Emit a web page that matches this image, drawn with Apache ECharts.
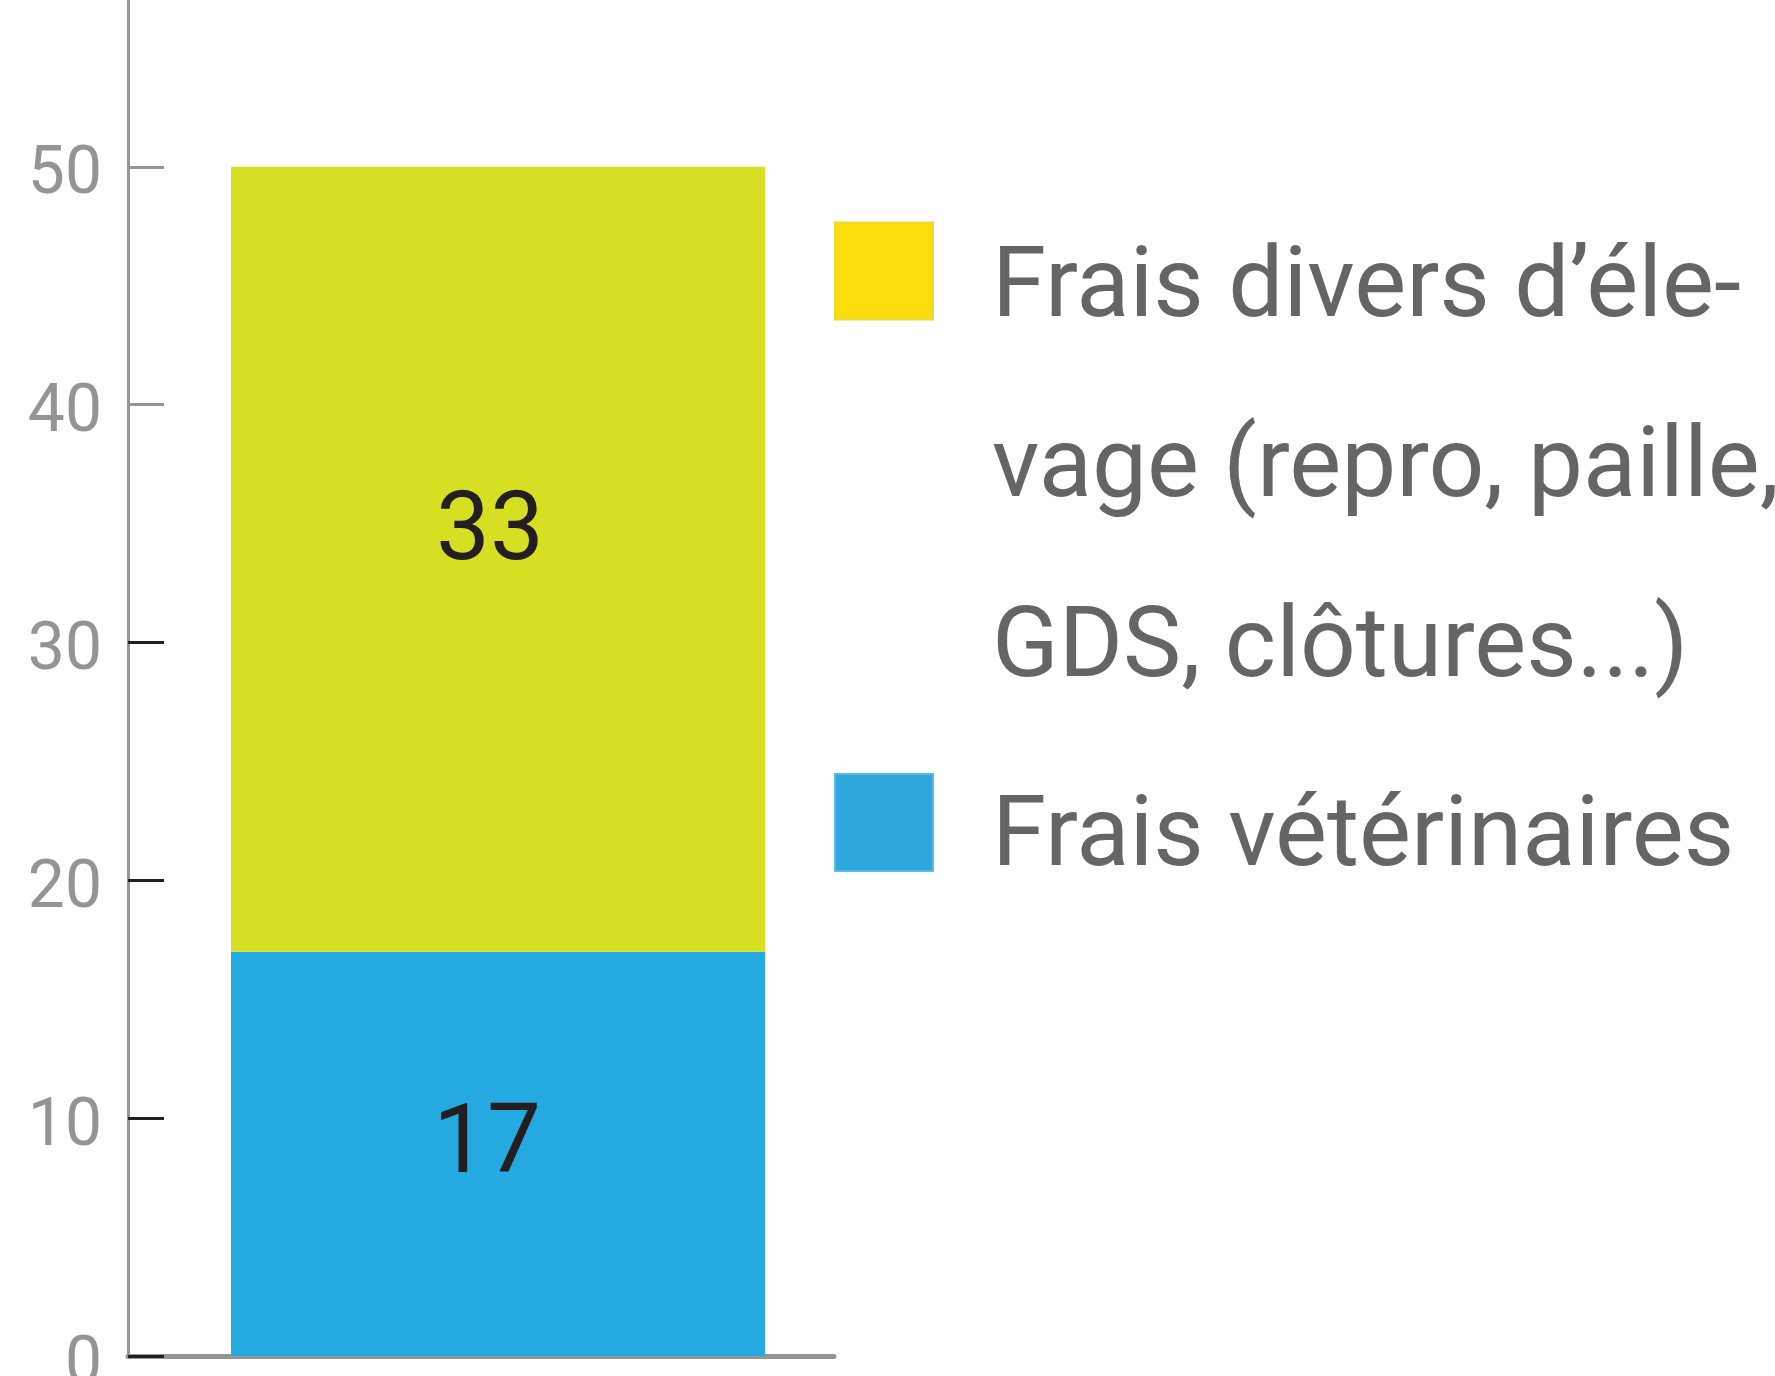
<!DOCTYPE html>
<html>
<head>
<meta charset="utf-8">
<script src="https://cdn.jsdelivr.net/npm/echarts@6/dist/echarts.min.js"></script>
<style>
  html, body { margin: 0; padding: 0; background: #fff; }
  #chart { width: 1775px; height: 1376px; }
</style>
</head>
<body>
<div id="chart"></div>
<script>
var categories = ['Total'];
var seriesNames = ['Frais vétérinaires', 'Frais divers d’élevage (repro, paille, GDS, clôtures...)'];
var veterinaires = [17];
var diversElevage = [33];
var legendLines = ['Frais divers d’éle-', 'vage (repro, paille,', 'GDS, clôtures...)'];

var FONT = 'Roboto, "Liberation Sans", sans-serif';

var chart = echarts.init(document.getElementById('chart'));

var legendRich = {
    t: { fontFamily: FONT, fontSize: 98, color: '#656565', lineHeight: 180 },
    s: { fontFamily: FONT, fontSize: 98, color: '#656565', lineHeight: 100 }
};

// plot area: value 0 at y=1356, 60 units above it (top is cut off)
var gridBox = { left: 128, top: -71, bottom: 20, outerBoundsMode: 'none' };

chart.setOption({
    animation: false,
    backgroundColor: '#ffffff',
    legend: [{
        // three line entry, rich text + top padding keeps first line level with the swatch
        data: [{ name: seriesNames[1], itemStyle: { color: '#FCDD0C', borderColor: '#E8D93A', borderWidth: 2 } }],
        left: 834,
        bottom: 676,
        padding: 0,
        itemWidth: 98,
        itemHeight: 97,
        icon: 'rect',
        selectedMode: false,
        formatter: function () {
            return legendLines.map(function (l) { return '{t|' + l + '}'; }).join('\n');
        },
        textStyle: { padding: [400, 0, 0, 54], rich: legendRich }
    }, {
        data: [{ name: seriesNames[0], itemStyle: { color: '#2EA7DC', borderColor: '#5DB9E3', borderWidth: 2 } }],
        left: 834,
        top: 773,
        padding: 0,
        itemWidth: 98,
        itemHeight: 97,
        icon: 'rect',
        selectedMode: false,
        formatter: function (name) { return '{s|' + name + '}'; },
        textStyle: { padding: [36, 0, 0, 54], rich: legendRich }
    }],
    grid: [
        Object.assign({ width: 740 }, gridBox),
        Object.assign({ width: 706 }, gridBox),
        // lower half of the axis, only for the dark ticks 0-30
        { left: 128, width: 706, top: 642.5, bottom: 20, outerBoundsMode: 'none' }
    ],
    xAxis: [{
        type: 'category',
        gridIndex: 0,
        data: categories,
        axisLine: { show: false },
        axisTick: { show: false },
        axisLabel: { show: false }
    }, {
        type: 'category',
        gridIndex: 1,
        data: categories,
        axisLine: { show: true, lineStyle: { color: '#959595', width: 5 } },
        axisTick: { show: false },
        axisLabel: { show: false }
    }, {
        type: 'category',
        gridIndex: 2,
        data: categories,
        show: false
    }],
    yAxis: [{
        type: 'value',
        gridIndex: 0,
        min: 0,
        max: 60,
        interval: 10,
        axisLine: { show: true, lineStyle: { color: '#959595', width: 3 } },
        axisTick: { show: true, inside: true, length: 36, lineStyle: { color: '#959595', width: 3 } },
        axisLabel: {
            margin: 26,
            padding: [20, 0, 0, 0],
            formatter: function (v) { return '{n|' + v + '}'; },
            rich: { n: { fontFamily: FONT, fontSize: 66, color: '#949494', lineHeight: 70 } }
        },
        splitLine: { show: false }
    }, {
        type: 'value',
        gridIndex: 1,
        min: 0,
        max: 60,
        show: false
    }, {
        type: 'value',
        gridIndex: 2,
        min: 0,
        max: 30,
        interval: 10,
        axisLine: { show: false },
        axisTick: { show: true, inside: true, length: 36, lineStyle: { color: '#231f20', width: 3 } },
        axisLabel: { show: false },
        splitLine: { show: false }
    }],
    series: [{
        name: seriesNames[0],
        type: 'bar',
        stack: 'total',
        xAxisIndex: 0,
        yAxisIndex: 0,
        barWidth: 534,
        data: veterinaires,
        itemStyle: { color: '#24A9E0' },
        label: {
            show: true,
            position: 'inside',
            offset: [-11, -6],
            fontFamily: FONT,
            fontSize: 96,
            color: '#231f20'
        },
        z: 3
    }, {
        name: seriesNames[1],
        type: 'bar',
        stack: 'total',
        xAxisIndex: 0,
        yAxisIndex: 0,
        barWidth: 534,
        data: diversElevage,
        itemStyle: { color: '#D6DF21' },
        label: {
            show: true,
            position: 'inside',
            offset: [-8, -24],
            fontFamily: FONT,
            fontSize: 96,
            color: '#231f20'
        },
        z: 3
    }]
});
</script>
</body>
</html>
